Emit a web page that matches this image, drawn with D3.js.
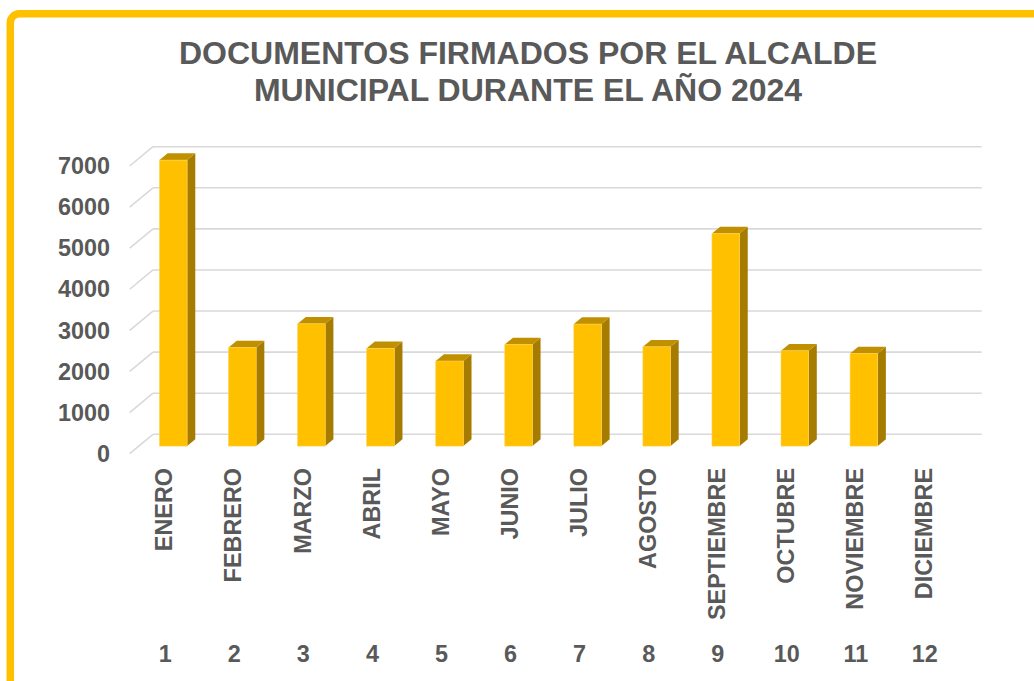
<!DOCTYPE html>
<html>
<head>
    <meta charset="utf-8">
    <title>Documentos firmados 2024</title>
    <script src="https://d3js.org/d3.v7.min.js"></script>
    <style>
        html, body { margin: 0; background: #fff; }
        svg { display: block; }
        text { font-family: "Liberation Sans", Arial, sans-serif; font-weight: bold; fill: #595959; }
        .grid { stroke: #d9d9d9; stroke-width: 1.6px; }
    </style>
</head>
<body>
    <svg></svg>
    <script>
        // data
        var months = ["ENERO", "FEBRERO", "MARZO", "ABRIL", "MAYO", "JUNIO", "JULIO",
                      "AGOSTO", "SEPTIEMBRE", "OCTUBRE", "NOVIEMBRE", "DICIEMBRE"];
        var monthNums = ["1", "2", "3", "4", "5", "6", "7", "8", "9", "10", "11", "12"];
        var docs = [6960, 2400, 2975, 2380, 2070, 2475, 2970, 2415, 5175, 2320, 2255, null];
        var yTicks = [0, 1000, 2000, 3000, 4000, 5000, 6000, 7000];
        var titleLines = ["DOCUMENTOS FIRMADOS POR EL ALCALDE", "MUNICIPAL DURANTE EL AÑO 2024"];

        const width = 1034, height = 681;
        var svg = d3.select("svg").attr("width", width).attr("height", height);

        // back wall of the 3d plot, depth offset toward the viewer
        var depthX = -23.3, depthY = 19.3;
        var x = d3.scaleBand().domain(months).range([153, 981.7]);
        var y = d3.scaleLinear().domain([0, 7000]).range([434.3, 146.7]);

        // project a point at depth d (0 = back wall, 1 = front edge)
        function px(xb, d) { return xb + d * depthX; }
        function py(yb, d) { return yb + d * depthY; }

        // frame
        svg.append("rect")
            .attr("x", 10.3).attr("y", 13.8)
            .attr("width", 1100).attr("height", 800)
            .attr("rx", 9)
            .attr("fill", "none")
            .attr("stroke", "#ffc000")
            .attr("stroke-width", 7.5);

        // title
        svg.append("g").selectAll("text")
            .data(titleLines)
            .enter().append("text")
            .attr("x", 528)
            .attr("y", (d, i) => 63.5 + i * 37)
            .attr("text-anchor", "middle")
            .attr("font-size", "32px")
            .text(d => d);

        // gridlines: back wall + side diagonal
        var grid = svg.append("g");
        grid.selectAll("line.back")
            .data(yTicks)
            .enter().append("line")
            .attr("class", "grid back")
            .attr("x1", x.range()[0]).attr("x2", x.range()[1])
            .attr("y1", d => y(d)).attr("y2", d => y(d));
        grid.selectAll("line.side")
            .data(yTicks)
            .enter().append("line")
            .attr("class", "grid side")
            .attr("x1", x.range()[0]).attr("y1", d => y(d))
            .attr("x2", px(x.range()[0], 1)).attr("y2", d => py(y(d), 1));

        // y axis labels
        svg.append("g").selectAll("text")
            .data(yTicks)
            .enter().append("text")
            .attr("x", 110)
            .attr("y", d => py(y(d), 1))
            .attr("dy", "0.35em")
            .attr("text-anchor", "end")
            .attr("font-size", "23.4px")
            .text(d => d);

        // 3d bars
        var dFront = 0.61, dBack = 0.26;
        var barW = x.bandwidth() * 0.4;
        var bars = svg.append("g").selectAll("g")
            .data(months.map((m, i) => ({ month: m, value: docs[i] })).filter(d => d.value != null))
            .enter().append("g");

        bars.each(function(d) {
            var g = d3.select(this);
            var cx = x(d.month) + x.bandwidth() / 2;
            var l = cx - barW / 2, r = cx + barW / 2;
            var t = y(d.value), b = y(0);
            var shift = [(dBack - dFront) * depthX, (dBack - dFront) * depthY];
            var fl = px(l, dFront), fr = px(r, dFront), ft = py(t, dFront), fb = py(b, dFront);
            // side face
            g.append("path")
                .attr("d", `M${fr},${ft} L${fr + shift[0]},${ft + shift[1]} L${fr + shift[0]},${fb + shift[1]} L${fr},${fb} Z`)
                .attr("fill", "#a67c00");
            // top face
            g.append("path")
                .attr("d", `M${fl},${ft} L${fl + shift[0]},${ft + shift[1]} L${fr + shift[0]},${ft + shift[1]} L${fr},${ft} Z`)
                .attr("fill", "#c09000");
            // front face
            g.append("rect")
                .attr("x", fl).attr("y", ft)
                .attr("width", fr - fl).attr("height", fb - ft)
                .attr("fill", "#ffc000")
                .attr("stroke", "#ffd34f")
                .attr("stroke-width", 0.6);
        });

        // category labels (rotated) and month numbers
        var catX = m => px(x(m) + x.bandwidth() / 2, 1);
        svg.append("g").selectAll("text")
            .data(months)
            .enter().append("text")
            .attr("transform", d => `translate(${catX(d)},468) rotate(-90)`)
            .attr("dy", "0.35em")
            .attr("text-anchor", "end")
            .attr("font-size", "23.4px")
            .text(d => d);

        svg.append("g").selectAll("text")
            .data(monthNums)
            .enter().append("text")
            .attr("x", (d, i) => catX(months[i]) + 1)
            .attr("y", 661.5)
            .attr("text-anchor", "middle")
            .attr("font-size", "23.4px")
            .text(d => d);
    </script>
</body>
</html>
